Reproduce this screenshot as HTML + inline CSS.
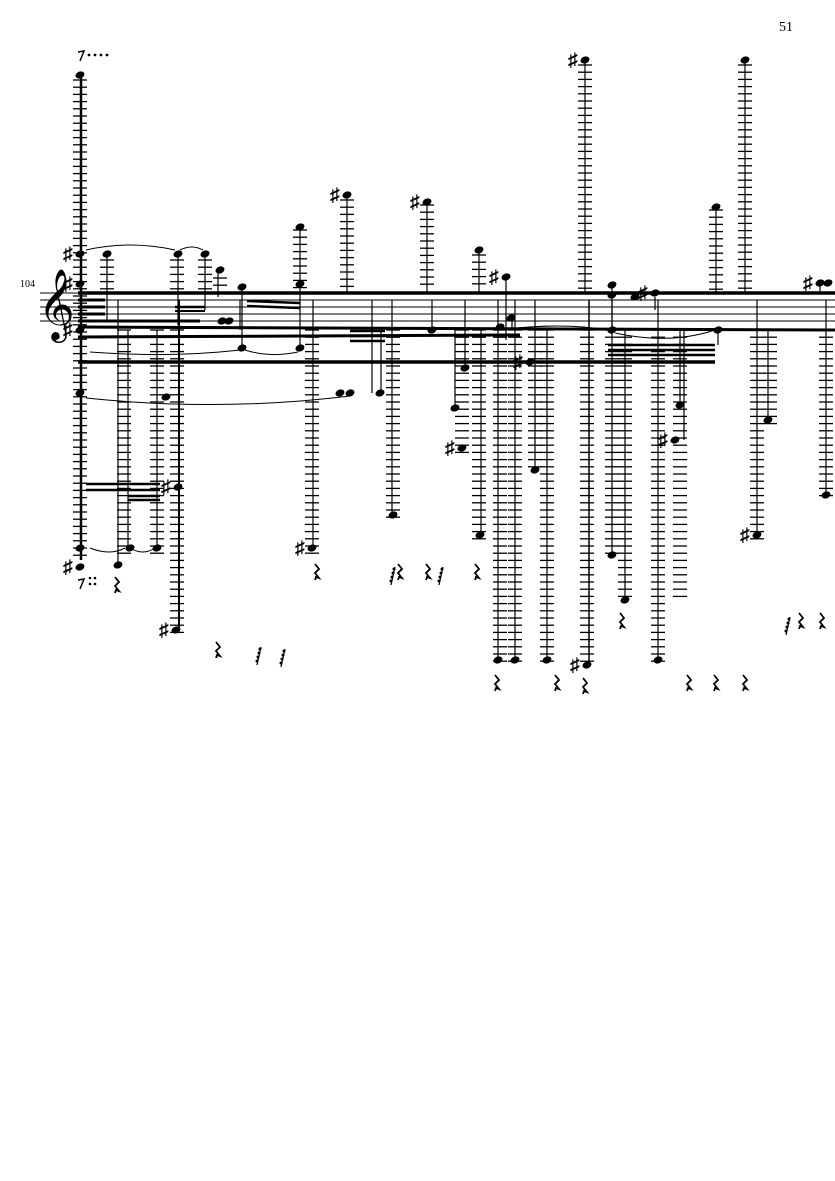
<!DOCTYPE html>
<html><head><meta charset="utf-8"><style>
html,body{margin:0;padding:0;background:#fff;width:835px;height:1181px;overflow:hidden}
svg{display:block}
text{font-family:"Liberation Serif","DejaVu Serif",serif;fill:#000}
</style></head><body>
<svg id="s" width="835" height="1181" viewBox="0 0 835 1181" xmlns="http://www.w3.org/2000/svg">
<text x="779" y="31" font-size="14">51</text>
<text x="20" y="287" font-size="10">104</text>
<g id="g" stroke="#000" fill="#000"></g>
</svg>
<script>
var g=document.getElementById('g'),h='';
function L(x1,y1,x2,y2,w){h+='<line x1="'+x1+'" y1="'+y1+'" x2="'+x2+'" y2="'+y2+'" stroke-width="'+(w||1)+'"/>';}
function N(x,y,acc){h+='<ellipse cx="'+x+'" cy="'+y+'" rx="4.6" ry="3.4" transform="rotate(-20 '+x+' '+y+')" stroke="none"/>';
 if(acc)h+='<text x="'+(x-17)+'" y="'+(y+6)+'" font-size="19" font-weight="bold" stroke="none">♯</text>';}
function LED(x,y1,y2,w){w=w||14;for(var y=y1;y<=y2;y+=7.2)L(x-w/2,y,x+w/2,y,1.3);}
function R(x,y){h+='<path d="M'+(x-2)+' '+(y-8)+' l4 5 l-4 4 l4 5 l-3 -1 l-1 3" fill="none" stroke-width="1.8"/>';}
function F(x,y){L(x+3,y-8,x-1,y+10,1.2);for(var i=0;i<4;i++)h+='<circle cx="'+(x+2-i)+'" cy="'+(y-6+i*4)+'" r="1.5" stroke="none"/>';}
[293,300,307,314,321].forEach(function(y){L(40,y,835,y,1);});
L(78,293,835,293,3.5);L(78,327,835,330,3);L(78,337,520,335,3);L(78,362,715,362,3.5);
L(78,300,105,300,3);L(78,307,105,307,3);L(78,314,105,314,3);L(78,321,200,321,3);
L(175,307,205,307,2.5);L(175,311,205,311,2);L(247,301,300,303,2.5);L(247,306,300,308,2.5);
L(350,331,385,331,2.5);L(350,336,385,336,2.5);L(350,341,385,341,2.5);
L(608,345,715,345,2.5);L(608,350,715,350,2.5);L(608,355,715,355,2.5);
L(86,484,160,484,2.5);L(86,490,160,490,2.5);L(128,496,160,496,2.5);L(128,500,160,500,2.5);
[[80,80,560],[107,260,290],[124,330,560],[157,330,555],[177,260,290],[177,330,635],[205,260,290],[220,278,290],
[300,230,290],[312,330,555],[347,200,290],[393,330,520],[427,205,290],[462,330,455],[479,255,290],[479,330,540],
[500,330,665],[515,330,665],[535,330,470],[547,330,665],[585,65,290],[587,330,665],[612,330,560],[625,330,600],
[658,330,665],[680,330,600],[716,210,290],[745,65,290],[757,330,540],[770,330,425],[826,330,500]].forEach(function(c){LED(c[0],c[1],c[2]);});
[[81,75,560,2.5],[107,254,320],[118,300,565],[128,330,548],[157,330,548],[178,254,325],[179,300,630,2],[205,254,310],
[218,270,297],[242,287,350],[240,330,300],[300,227,350],[313,300,548],[347,195,293],[372,300,393],[381,330,393],
[392,300,515],[427,202,293],[432,330,300],[455,330,408],[465,300,368],[479,250,293],[481,330,535],[498,300,660],
[506,277,340],[512,318,330],[515,300,660],[535,300,470],[547,330,660],[585,60,293],[589,300,665,1.5],[612,285,330],
[612,300,555],[625,330,600],[635,300,297],[655,297,310],[658,300,660],[680,330,405],[684,330,440],[716,207,293],
[718,330,345],[745,60,293],[757,300,535],[768,330,420],[820,283,293],[826,300,495]].forEach(function(s){L(s[0],s[1],s[0],s[2],s[3]||1.2);});
[[80,75],[80,254,1],[107,254],[80,284,1],[80,330,1],[80,393],[80,548],[80,567,1],[118,565],[130,548],[157,548],
[178,487,1],[176,630,1],[178,254],[205,254],[220,270],[222,321],[229,321],[242,287],[242,348],[300,227],[300,284],
[300,348],[312,548,1],[347,195,1],[350,393],[380,393],[393,515],[427,202,1],[432,330],[455,408],[465,368],[462,448,1],
[479,250],[480,535],[506,277,1],[500,327],[511,318],[530,362,1],[535,470],[498,660],[515,660],[547,660],[585,60,1],
[587,665,1],[612,285],[612,295],[612,330],[612,555],[625,600],[635,297],[655,293,1],[658,660],[680,405],[675,440,1],
[716,207],[718,330],[745,60],[757,535,1],[768,420],[826,495],[820,283,1],[828,283],[166,397],[340,393]].forEach(function(n){N(n[0],n[1],n[2]);});
h+='<path d="M86 250 Q130 240 175 250 M180 250 Q192 244 203 250 M86 398 Q220 412 350 396 M90 352 Q170 358 240 350 M245 350 Q270 358 298 352 M90 548 Q110 556 125 548 M130 548 Q143 556 155 548 M500 330 Q560 322 608 330 M615 333 Q670 345 715 330" fill="none" stroke-width="1"/>';
h+='<text x="38" y="325" font-size="62" stroke="none" font-family="DejaVu Sans">𝄞</text>';
// eighth rest + dots top
h+='<path d="M78 52 l6 -1 l-4 10" fill="none" stroke-width="1.5"/>';
for(var i=0;i<4;i++)h+='<circle cx="'+(89+i*6)+'" cy="55" r="1.4" stroke="none"/>';
h+='<path d="M78 580 l6 -1 l-4 10" fill="none" stroke-width="1.5"/>';
h+='<circle cx="90" cy="578" r="1.3" stroke="none"/><circle cx="90" cy="584" r="1.3" stroke="none"/><circle cx="95" cy="578" r="1.3" stroke="none"/><circle cx="95" cy="584" r="1.3" stroke="none"/>';
[[317,572],[400,572],[428,572],[477,572],[497,683],[557,683],[585,686],[622,621],[689,683],[716,683],[745,683],[801,621],[822,621],[117,585],[218,650]].forEach(function(r){R(r[0],r[1]);});
[[392,575],[440,575],[258,655],[282,657],[787,625]].forEach(function(f){F(f[0],f[1]);});
g.innerHTML=h;
</script>
</body></html>
